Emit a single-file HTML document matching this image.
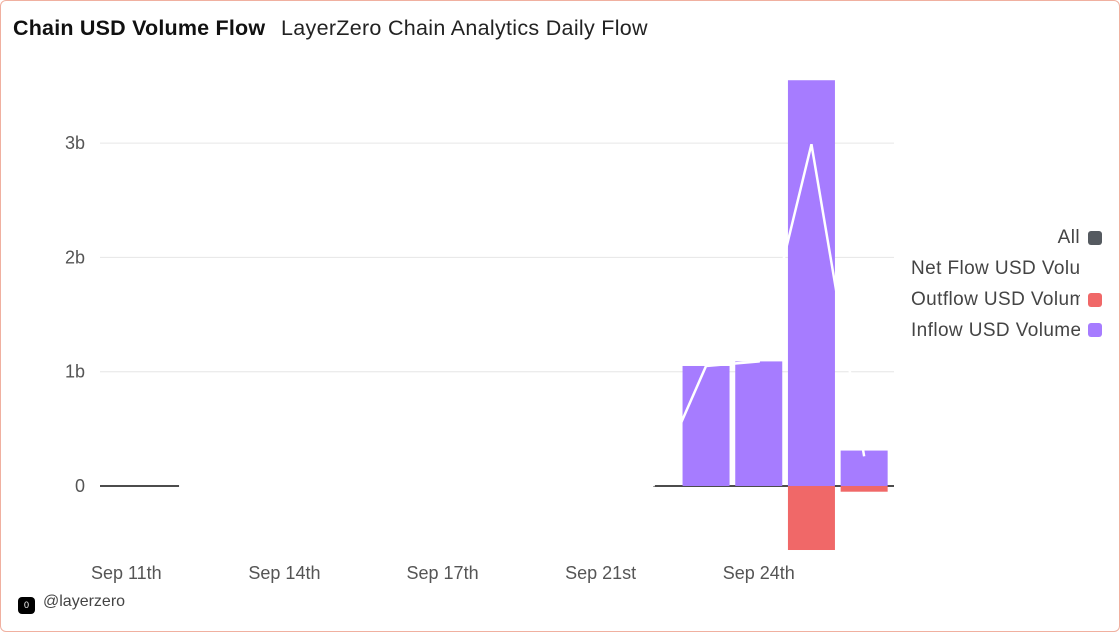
<!DOCTYPE html>
<html><head><meta charset="utf-8"><style>
body{margin:0;width:1120px;height:632px;overflow:hidden;background:#fff;font-family:"Liberation Sans",sans-serif}
#frame{position:absolute;left:0;top:0;width:1118px;height:630px;border:1px solid #f0b0a0;border-radius:6px}
.t{position:absolute;white-space:nowrap}
.lg{position:absolute;left:911px;width:169px;overflow:hidden;white-space:nowrap;font-size:19px;color:#444;line-height:22px;letter-spacing:0.4px}
.sq{position:absolute;left:1088px;width:14px;height:14px;border-radius:3px}
</style></head><body>
<div id="frame"></div>
<div class="t" style="left:13px;top:16px;font-size:21.5px;font-weight:bold;color:#111;letter-spacing:0.2px">Chain USD Volume Flow</div>
<div class="t" style="left:281px;top:16px;font-size:21.5px;color:#222;letter-spacing:0.3px">LayerZero Chain Analytics Daily Flow</div>
<svg id="chart" width="1120" height="632" style="position:absolute;left:0;top:0"></svg>
<div class="lg" style="top:227px;text-align:right">All</div>
<div class="sq" style="top:231px;background:#555a60"></div>
<div class="lg" style="top:258px">Net Flow USD Volume</div>
<div class="lg" style="top:289px">Outflow USD Volume</div>
<div class="sq" style="top:293px;background:#f06868"></div>
<div class="lg" style="top:320px">Inflow USD Volume</div>
<div class="sq" style="top:323px;background:#a67cff"></div>
<div class="t" style="left:18px;top:593px;font-size:16px;color:#444"><span style="display:inline-block;width:17px;height:17px;background:#000;border-radius:4px;color:#fff;font-size:9px;text-align:center;line-height:17px;vertical-align:-2px;margin-right:8px">0</span>@layerzero</div>
<script>
const categories=["Sep 11th","Sep 12th","Sep 13th","Sep 14th","Sep 15th","Sep 16th","Sep 17th","Sep 19th","Sep 20th","Sep 21st","Sep 22nd","Sep 23rd","Sep 24th","Sep 25th","Sep 26th"];
const inflow=[0,0,0,0,0,0,0,0,0,0,0,1.05,1.09,3.55,0.31];
const outflow=[0,0,0,0,0,0,0,0,0,0,0,0,0,-0.56,-0.05];
const netflow=[0,0,0,0,0,0,0,0,0,0,0,1.05,1.09,2.99,0.26];
const yTicks=[0,1,2,3];
const yTickLabels=["0","1b","2b","3b"];
const xLabelEvery=3;
const svg=document.getElementById('chart');const NS="http://www.w3.org/2000/svg";
const L=100,R=890.5,GR=894,y0=486,pxPerB=114.3;
const band=(R-L)/categories.length;
const x=i=>L+band*(i+0.5);
const y=v=>y0-v*pxPerB;
function mk(t,a){const e=document.createElementNS(NS,t);for(const k in a)e.setAttribute(k,a[k]);svg.appendChild(e);return e;}
yTicks.forEach((v,i)=>{
 if(v!==0){const g=mk('line',{x1:L,x2:GR,y1:y(v),y2:y(v),stroke:'#e6e6e6','stroke-width':1});
 
 }
 const t=mk('text',{x:85,y:y(v)+6,'text-anchor':'end','font-size':18,fill:'#555','font-family':'Liberation Sans'});
 t.textContent=yTickLabels[i];
 
 
});
categories.forEach((c,i)=>{if(i%xLabelEvery===0){
 const t=mk('text',{x:x(i),y:579,'text-anchor':'middle','font-size':18,fill:'#555','font-family':'Liberation Sans'});
 t.textContent=c;
 
 }});
let lastZero=0;netflow.forEach((v,i)=>{if(v===0)lastZero=i;});
const z1=mk('line',{x1:L,x2:x(1),y1:y0,y2:y0,stroke:'#111','stroke-width':1.5});


const z2=mk('line',{x1:x(lastZero),x2:GR,y1:y0,y2:y0,stroke:'#111','stroke-width':1.5});


inflow.forEach((v,i)=>{if(v>0){const r=mk('rect',{x:x(i)-23.5,width:47,y:y(v),height:y0-y(v),fill:'#a67cff'});
 
 }});
outflow.forEach((v,i)=>{if(v<0){const r=mk('rect',{x:x(i)-23.5,width:47,y:y0,height:y(v)-y0,fill:'#f06868'});
 
 }});
const pts=netflow.map((v,i)=>i>=lastZero?x(i)+','+y(v):null).filter(p=>p).join(' ');
const nl=mk('polyline',{points:pts,fill:'none',stroke:'#fff','stroke-width':2.5});


</script>
</body></html>
